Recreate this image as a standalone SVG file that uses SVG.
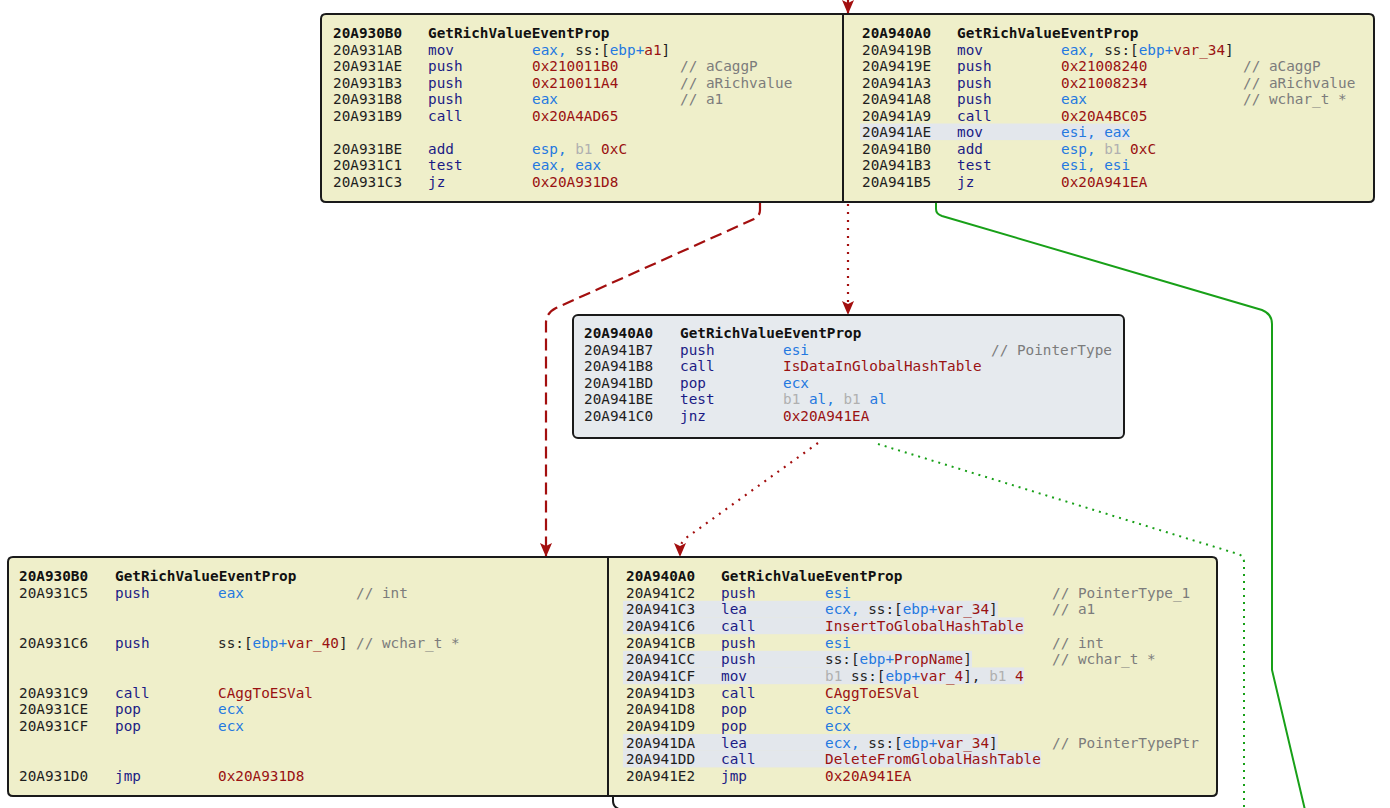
<svg xmlns="http://www.w3.org/2000/svg" width="1390" height="808" viewBox="0 0 1390 808" xml:space="preserve">
<style>
text{font-family:"DejaVu Sans Mono","Liberation Mono",monospace;font-size:14.35px;fill:#1e1e1e}
.h{font-weight:bold;fill:#111}
.m{fill:#1b1b85}
.r{fill:#2478e0}
.c{fill:#9a1212}
.k{fill:#7c7c7c}
.g{fill:#b0b0b0}
.y{fill:#efefca;stroke:#1a1a1a;stroke-width:2}
.b{fill:#e6eaee;stroke:#1a1a1a;stroke-width:2}
.hl{fill:#e3e7ec}
.red{fill:none;stroke:#a30f0f;stroke-width:2.2}
.grn{fill:none;stroke:#18a018;stroke-width:2}
</style>
<defs>
<marker id="ar" viewBox="0 0 14 12" refX="13" refY="6" markerWidth="14" markerHeight="12" markerUnits="userSpaceOnUse" orient="auto"><path d="M0,0 L14,6 L0,12 L3,6 Z" fill="#a30f0f"/></marker>
</defs>
<g id="connectors">
<path class="red" d="M848 -4 L848 13" marker-end="url(#ar)"/>
<path class="red" d="M760 203 L760 210 Q760 216 754 219 L556 308 Q546 313 546 323 L546 556" stroke-dasharray="12 6" marker-end="url(#ar)"/>
<path class="red" d="M848 204 L848 314" stroke-dasharray="2 6" marker-end="url(#ar)"/>
<path class="grn" d="M936 203 L936 209 Q936 214 942 216 L1262 310 Q1272 314 1272 324 L1272 670 L1305 810"/>
<path class="red" d="M818 443 L686 538 Q680 543 680 550 L680 556" stroke-dasharray="2 6" marker-end="url(#ar)"/>
<path class="grn" d="M878 444 L1238 554 Q1244 556 1244 562 L1244 810" stroke-dasharray="2 5"/>
<path fill="none" stroke="#1a1a1a" stroke-width="2" d="M613 797 L613 801 Q613 808 622 810"/>
</g>
<g id="n1">
<path class="y" d="M843 14 H326 Q321 14 321 19 V197 Q321 202 326 202 H843 Z"/>
<text y="38" class="h"><tspan x="333">20A930B0</tspan><tspan x="428">GetRichValueEventProp</tspan></text>
<text y="54.5"><tspan x="333">20A931AB</tspan><tspan x="428" class="m">mov</tspan><tspan x="532" class="r">eax, </tspan><tspan>ss:[</tspan><tspan class="r">ebp+</tspan><tspan class="c">a1</tspan><tspan>]</tspan></text>
<text y="71"><tspan x="333">20A931AE</tspan><tspan x="428" class="m">push</tspan><tspan x="532" class="c">0x210011B0</tspan><tspan x="680" class="k">// aCaggP</tspan></text>
<text y="87.5"><tspan x="333">20A931B3</tspan><tspan x="428" class="m">push</tspan><tspan x="532" class="c">0x210011A4</tspan><tspan x="680" class="k">// aRichvalue</tspan></text>
<text y="104"><tspan x="333">20A931B8</tspan><tspan x="428" class="m">push</tspan><tspan x="532" class="r">eax</tspan><tspan x="680" class="k">// a1</tspan></text>
<text y="120.5"><tspan x="333">20A931B9</tspan><tspan x="428" class="m">call</tspan><tspan x="532" class="c">0x20A4AD65</tspan></text>
<text y="153.5"><tspan x="333">20A931BE</tspan><tspan x="428" class="m">add</tspan><tspan x="532" class="r">esp, </tspan><tspan class="g">b1 </tspan><tspan class="c">0xC</tspan></text>
<text y="170"><tspan x="333">20A931C1</tspan><tspan x="428" class="m">test</tspan><tspan x="532" class="r">eax, eax</tspan></text>
<text y="186.5"><tspan x="333">20A931C3</tspan><tspan x="428" class="m">jz</tspan><tspan x="532" class="c">0x20A931D8</tspan></text>
</g>
<g id="n2">
<path class="y" d="M843 14 H1369 Q1374 14 1374 19 V197 Q1374 202 1369 202 H843 Z"/>
<rect class="hl" x="860" y="123.5" width="270" height="16.6"/>
<text y="38" class="h"><tspan x="862">20A940A0</tspan><tspan x="957">GetRichValueEventProp</tspan></text>
<text y="54.5"><tspan x="862">20A9419B</tspan><tspan x="957" class="m">mov</tspan><tspan x="1061" class="r">eax, </tspan><tspan>ss:[</tspan><tspan class="r">ebp+</tspan><tspan class="c">var_34</tspan><tspan>]</tspan></text>
<text y="71"><tspan x="862">20A9419E</tspan><tspan x="957" class="m">push</tspan><tspan x="1061" class="c">0x21008240</tspan><tspan x="1243" class="k">// aCaggP</tspan></text>
<text y="87.5"><tspan x="862">20A941A3</tspan><tspan x="957" class="m">push</tspan><tspan x="1061" class="c">0x21008234</tspan><tspan x="1243" class="k">// aRichvalue</tspan></text>
<text y="104"><tspan x="862">20A941A8</tspan><tspan x="957" class="m">push</tspan><tspan x="1061" class="r">eax</tspan><tspan x="1243" class="k">// wchar_t *</tspan></text>
<text y="120.5"><tspan x="862">20A941A9</tspan><tspan x="957" class="m">call</tspan><tspan x="1061" class="c">0x20A4BC05</tspan></text>
<text y="137"><tspan x="862">20A941AE</tspan><tspan x="957" class="m">mov</tspan><tspan x="1061" class="r">esi, eax</tspan></text>
<text y="153.5"><tspan x="862">20A941B0</tspan><tspan x="957" class="m">add</tspan><tspan x="1061" class="r">esp, </tspan><tspan class="g">b1 </tspan><tspan class="c">0xC</tspan></text>
<text y="170"><tspan x="862">20A941B3</tspan><tspan x="957" class="m">test</tspan><tspan x="1061" class="r">esi, esi</tspan></text>
<text y="186.5"><tspan x="862">20A941B5</tspan><tspan x="957" class="m">jz</tspan><tspan x="1061" class="c">0x20A941EA</tspan></text>
</g>
<g id="n3">
<rect class="b" x="573" y="315" width="551" height="123" rx="5"/>
<text y="338" class="h"><tspan x="584">20A940A0</tspan><tspan x="680">GetRichValueEventProp</tspan></text>
<text y="354.5"><tspan x="584">20A941B7</tspan><tspan x="680" class="m">push</tspan><tspan x="783" class="r">esi</tspan><tspan x="991" class="k">// PointerType</tspan></text>
<text y="371"><tspan x="584">20A941B8</tspan><tspan x="680" class="m">call</tspan><tspan x="783" class="c">IsDataInGlobalHashTable</tspan></text>
<text y="387.5"><tspan x="584">20A941BD</tspan><tspan x="680" class="m">pop</tspan><tspan x="783" class="r">ecx</tspan></text>
<text y="404"><tspan x="584">20A941BE</tspan><tspan x="680" class="m">test</tspan><tspan x="783" class="g">b1 </tspan><tspan class="r">al, </tspan><tspan class="g">b1 </tspan><tspan class="r">al</tspan></text>
<text y="420.5"><tspan x="584">20A941C0</tspan><tspan x="680" class="m">jnz</tspan><tspan x="783" class="c">0x20A941EA</tspan></text>
</g>
<g id="n4">
<path class="y" d="M608 557 H13 Q8 557 8 562 V791 Q8 796 13 796 H608 Z"/>
<text y="581" class="h"><tspan x="19">20A930B0</tspan><tspan x="115">GetRichValueEventProp</tspan></text>
<text y="597.7"><tspan x="19">20A931C5</tspan><tspan x="115" class="m">push</tspan><tspan x="218" class="r">eax</tspan><tspan x="356" class="k">// int</tspan></text>
<text y="647.6"><tspan x="19">20A931C6</tspan><tspan x="115" class="m">push</tspan><tspan x="218">ss:[</tspan><tspan class="r">ebp+</tspan><tspan class="c">var_40</tspan><tspan>]</tspan><tspan x="356" class="k">// wchar_t *</tspan></text>
<text y="697.6"><tspan x="19">20A931C9</tspan><tspan x="115" class="m">call</tspan><tspan x="218" class="c">CAggToESVal</tspan></text>
<text y="714.2"><tspan x="19">20A931CE</tspan><tspan x="115" class="m">pop</tspan><tspan x="218" class="r">ecx</tspan></text>
<text y="730.9"><tspan x="19">20A931CF</tspan><tspan x="115" class="m">pop</tspan><tspan x="218" class="r">ecx</tspan></text>
<text y="780.8"><tspan x="19">20A931D0</tspan><tspan x="115" class="m">jmp</tspan><tspan x="218" class="c">0x20A931D8</tspan></text>
</g>
<g id="n5">
<path class="y" d="M608 557 H1212 Q1217 557 1217 562 V791 Q1217 796 1212 796 H608 Z"/>
<rect class="hl" x="623" y="600.8" width="375" height="16.8"/>
<rect class="hl" x="623" y="617.4" width="401" height="16.8"/>
<rect class="hl" x="623" y="650.8" width="349" height="16.8"/>
<rect class="hl" x="623" y="667.4" width="401" height="16.8"/>
<rect class="hl" x="623" y="734" width="375" height="16.8"/>
<rect class="hl" x="623" y="750.6" width="418" height="16.8"/>
<text y="581" class="h"><tspan x="626">20A940A0</tspan><tspan x="721">GetRichValueEventProp</tspan></text>
<text y="597.7"><tspan x="626">20A941C2</tspan><tspan x="721" class="m">push</tspan><tspan x="825" class="r">esi</tspan><tspan x="1052" class="k">// PointerType_1</tspan></text>
<text y="614.3"><tspan x="626">20A941C3</tspan><tspan x="721" class="m">lea</tspan><tspan x="825" class="r">ecx, </tspan><tspan>ss:[</tspan><tspan class="r">ebp+</tspan><tspan class="c">var_34</tspan><tspan>]</tspan><tspan x="1052" class="k">// a1</tspan></text>
<text y="631"><tspan x="626">20A941C6</tspan><tspan x="721" class="m">call</tspan><tspan x="825" class="c">InsertToGlobalHashTable</tspan></text>
<text y="647.6"><tspan x="626">20A941CB</tspan><tspan x="721" class="m">push</tspan><tspan x="825" class="r">esi</tspan><tspan x="1052" class="k">// int</tspan></text>
<text y="664.3"><tspan x="626">20A941CC</tspan><tspan x="721" class="m">push</tspan><tspan x="825">ss:[</tspan><tspan class="r">ebp+</tspan><tspan class="c">PropName</tspan><tspan>]</tspan><tspan x="1052" class="k">// wchar_t *</tspan></text>
<text y="680.9"><tspan x="626">20A941CF</tspan><tspan x="721" class="m">mov</tspan><tspan x="825" class="g">b1 </tspan><tspan>ss:[</tspan><tspan class="r">ebp+</tspan><tspan class="c">var_4</tspan><tspan>], </tspan><tspan class="g">b1 </tspan><tspan class="c">4</tspan></text>
<text y="697.6"><tspan x="626">20A941D3</tspan><tspan x="721" class="m">call</tspan><tspan x="825" class="c">CAggToESVal</tspan></text>
<text y="714.2"><tspan x="626">20A941D8</tspan><tspan x="721" class="m">pop</tspan><tspan x="825" class="r">ecx</tspan></text>
<text y="730.9"><tspan x="626">20A941D9</tspan><tspan x="721" class="m">pop</tspan><tspan x="825" class="r">ecx</tspan></text>
<text y="747.5"><tspan x="626">20A941DA</tspan><tspan x="721" class="m">lea</tspan><tspan x="825" class="r">ecx, </tspan><tspan>ss:[</tspan><tspan class="r">ebp+</tspan><tspan class="c">var_34</tspan><tspan>]</tspan><tspan x="1052" class="k">// PointerTypePtr</tspan></text>
<text y="764.2"><tspan x="626">20A941DD</tspan><tspan x="721" class="m">call</tspan><tspan x="825" class="c">DeleteFromGlobalHashTable</tspan></text>
<text y="780.8"><tspan x="626">20A941E2</tspan><tspan x="721" class="m">jmp</tspan><tspan x="825" class="c">0x20A941EA</tspan></text>
</g>
</svg>
